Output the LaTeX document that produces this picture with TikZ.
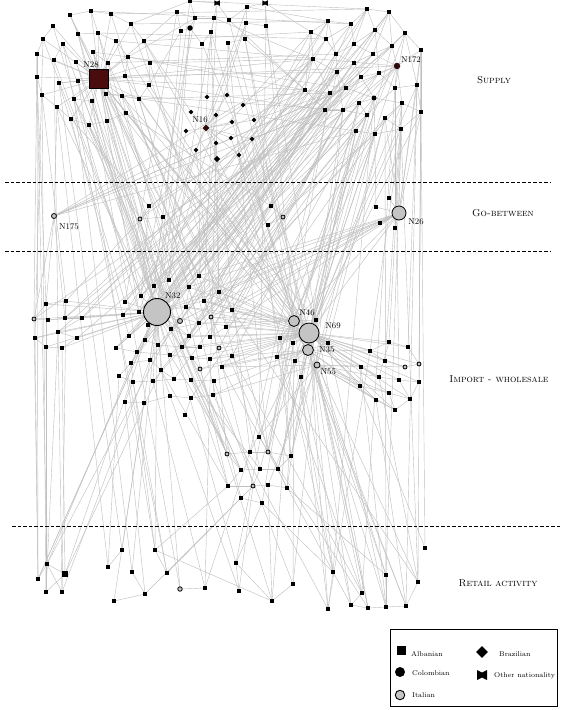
\documentclass[tikz,border=0pt]{standalone}
\usetikzlibrary{shapes.geometric, backgrounds, calc}
\definecolor{cdark}{RGB}{74,12,12}
\definecolor{cdeep}{RGB}{48,10,10}
\definecolor{clink}{RGB}{192,192,192}
\definecolor{citaly}{RGB}{196,196,196}

\begin{document}
\begin{tikzpicture}[
  x=1pt, y=-1pt,
  alb/.style     = {rectangle, fill=black, inner sep=0pt, minimum size=#1},
  alb/.default   = 3.2pt,
  col/.style     = {circle, fill=black, inner sep=0pt, minimum size=#1},
  col/.default   = 3.4pt,
  bra/.style     = {diamond, fill=black, inner sep=0pt, minimum size=#1},
  bra/.default   = 5pt,
  ita/.style     = {circle, draw=black, fill=citaly, line width=0.8pt,
                    inner sep=0pt, minimum size=#1},
  ita/.default   = 4pt,
  oth/.style     = {rectangle, inner sep=0pt, minimum size=#1,
                    path picture={\fill[black]
                      (path picture bounding box.north west)
                      -- ($(path picture bounding box.north)!0.5!(path picture bounding box.center)$)
                      -- (path picture bounding box.north east)
                      -- (path picture bounding box.south east)
                      -- ($(path picture bounding box.south)!0.5!(path picture bounding box.center)$)
                      -- (path picture bounding box.south west) -- cycle;}},
  oth/.default   = 5.5pt,
  link/.style    = {clink, line width=0.42pt},
  tier/.style    = {black, line width=0.9pt, dash pattern=on 3.5pt off 2pt},
  lbl/.style     = {font=\fontsize{8.5}{10}\selectfont, inner sep=1pt},
  tierlbl/.style = {font=\fontsize{10}{12}\selectfont\scshape},
  keytxt/.style  = {font=\fontsize{7}{8}\selectfont, anchor=west, inner sep=0pt},
]
\useasboundingbox (0,0) rectangle (563,710);

%% --- Supply: Albanian group ---
\foreach \n/\x/\y in {a1/70/15, a2/91/11, a3/111/14, a4/53/26, a5/78/34,
    a6/98/33, a7/131/24, a8/43/39, a9/63/44, a10/116/41, a11/144/41,
    a12/37/54, a13/54/60, a14/93/52, a16/108/63, a17/128/57, a20/59/83,
    a21/78/81, a22/125/76, a23/149/85, a24/42/95, a25/74/99, a26/92/101,
    a27/106/94, a28/122/96, a29/139/99, a30/57/107, a31/126/113,
    a32/71/119, a33/89/125}
  \node[alb] (\n) at (\x,\y) {};
\foreach \n/\x/\y in {a15/76/62, a18/150/63, a19/37/77, a34/107/121}
  \node[alb=4.4pt] (\n) at (\x,\y) {};
\node[alb=19pt, fill=cdark, draw=black, line width=0.6pt,
      label={[lbl, xshift=-8pt]above:N28}] (n28) at (99,79) {};

%% --- Supply: top middle ---
\foreach \n/\x/\y in {t1/190/1, t2/177/12, t3/195/18, t4/214/18, t5/229/20,
    t6/247/7, t7/246/23, t8/266/26, t9/181/31, t10/211/32, t11/202/44,
    t12/228/43, t13/245/39}
  \node[alb] (\n) at (\x,\y) {};
\node[oth] (o1) at (217,3) {};
\node[oth] (o2) at (265,3) {};
\node[col=5.5pt] (c1) at (190,28) {};

%% --- Supply: Brazilian group ---
\foreach \n/\x/\y in {b1/191/112, b2/207/97, b3/227/95, b4/243/105,
    b5/216/115, b6/232/122, b7/254/120, b8/186/131, b9/231/138,
    b10/252/139, b11/216/143, b12/196/150, b13/239/155}
  \node[bra] (\n) at (\x,\y) {};
\node[bra=6.5pt] (b14) at (217,159) {};
\node[bra=7pt, fill=cdeep, label={[lbl, xshift=-6pt]above:N16}] (n16) at (206,128) {};

%% --- Supply: top right ---
\foreach \n/\x/\y in {r1/367/9, r2/389/12, r3/328/21, r4/351/24, r5/375/30,
    r6/405/33, r7/311/32, r8/326/39, r9/354/44, r10/392/46, r11/421/50,
    r12/336/54, r13/373/54, r14/313/59, r15/354/63, r16/337/72, r17/379/73,
    r18/361/77, r19/346/88, r20/395/88, r21/417/85, r22/305/90, r23/330/93,
    r25/359/103, r26/402/103, r28/325/110, r29/343/110, r30/367/115,
    r31/385/118, r32/356/131, r33/375/134, r34/401/129}
  \node[alb] (\n) at (\x,\y) {};
\node[col=5pt] (r24) at (374,98) {};
\node[alb=4.4pt] (r27) at (421,112) {};
\node[col=6.5pt, fill=cdeep, label={[lbl]30:N172}] (n172) at (397,66) {};

%% --- Go-between ---
\node[ita=5pt, label={[lbl, label distance=5pt]-60:N175}] (n175) at (54,216) {};
\foreach \n/\x/\y in {g1/149/206, g3/163/217, g4/271/206, g6/268/225,
    g7/376/207, g8/389/198, g9/380/223, g10/395/228}
  \node[alb] (\n) at (\x,\y) {};
\node[ita] (g2) at (140,219) {};
\node[ita] (g5) at (283,217) {};
\node[ita=14pt, label={[lbl, label distance=2pt]-30:N26}] (n26) at (399,213) {};

%% --- Import - wholesale ---
\node[ita=27pt, line width=0.9pt, label={[lbl]60:N32}] (n32) at (157,312) {};
\foreach \n/\x/\y in {w1/199/276, w2/169/280, w3/154/286, w4/189/287,
    w5/219/292, w6/141/296, w7/125/302, w8/46/304, w9/66/301, w10/204/301,
    w11/186/307, w12/232/310, w13/139/312, w14/123/315, w15/48/320,
    w16/65/318, w17/82/318, w18/199/323, w19/148/325, w20/171/329,
    w21/226/327, w22/58/332, w23/77/338, w24/35/338, w25/129/336,
    w26/189/336, w27/210/337, w28/145/340, w29/158/345, w30/46/347,
    w31/62/348, w32/116/348, w33/182/347, w34/200/347, w35/137/352,
    w36/170/355, w37/192/358, w38/210/359, w39/232/356, w40/277/357,
    w41/131/363, w42/150/360, w43/222/367, w44/161/370, w45/119/376,
    w46/133/382, w47/153/381, w48/174/379, w49/191/380, w50/214/381,
    w51/170/396, w52/191/398, w53/213/395, w54/125/402, w55/144/403,
    w56/185/415, w57/259/437}
  \node[alb] (\n) at (\x,\y) {};
\foreach \n/\x/\y in {i1/34/319, i3/211/317, i4/219/348, i5/200/369,
    i6/405/367, i7/419/364}
  \node[ita] (\n) at (\x,\y) {};
\node[ita=5pt] (i2) at (180,321) {};
\node[ita=11pt, label={[lbl]45:N46}] (n46) at (294,321) {};
\node[ita=20pt, label={[lbl, label distance=5pt]10:N69}] (n69) at (309,333) {};
\node[ita=11pt, label={[lbl, label distance=4pt]right:N35}] (n35) at (308,350) {};
\node[ita=6pt, label={[lbl]-45:N55}] (n55) at (317,365) {};
\foreach \n/\x/\y in {v1/316/320, v2/293/343, v3/328/343, v4/295/361,
    v5/301/377, v6/280/338, v7/389/342, v8/408/347, v9/370/351,
    v10/385/361, v11/361/367, v12/379/377, v13/399/380, v14/419/382,
    v15/360/386, v16/389/393, v17/410/399, v18/376/400, v19/395/410}
  \node[alb] (\n) at (\x,\y) {};

%% --- Import - wholesale: lower group ---
\foreach \n/\x/\y in {m1/250/452, m2/291/456, m3/241/470, m4/260/469,
    m5/278/469, m6/228/486, m7/268/485, m8/287/488, m9/241/498, m10/262/503}
  \node[alb] (\n) at (\x,\y) {};
\foreach \n/\x/\y in {i8/227/454, i9/268/452, i10/253/486}
  \node[ita] (\n) at (\x,\y) {};

%% --- Retail activity ---
\foreach \n/\x/\y in {e1/425/548, e2/122/550, e3/155/550, e5/236/563,
    e6/108/567, e8/38/579, e9/132/572, e10/167/573, e11/333/572,
    e12/386/575, e13/418/582, e14/293/584, e15/46/592, e16/62/592,
    e17/205/588, e18/239/591, e19/145/594, e20/362/593, e21/114/601,
    e22/272/601, e23/351/605, e24/368/608, e25/386/607, e26/406/606,
    e27/328/609}
  \node[alb] (\n) at (\x,\y) {};
\node[alb=4pt] (e4) at (47,564) {};
\node[alb=5.5pt] (e7) at (65,574) {};
\node[ita=4.5pt] (i11) at (180,589) {};

%% --- Tiers ---
\draw[tier] (5,182) -- (550,182);
\draw[tier] (5,251) -- (551,251);
\draw[tier] (12,526) -- (561,526);
\node[tierlbl] (supply) at (494,80)  {Supply};
\node[tierlbl] (gobtw)  at (503,213) {Go-between};
\node[tierlbl] (impw)   at (499,379) {Import - wholesale};
\node[tierlbl] (retail) at (498,583) {Retail activity};

%% --- Links ---
\begin{pgfonlayer}{background}
  \fill[white] (0,0) rectangle (563,710);
  % stars
  \foreach \i in {1,...,34} \draw[link] (n28) -- (a\i);
  \foreach \i in {1,...,14} \draw[link] (n16) -- (b\i);
  \foreach \n in {w1,w2,w3,w4,w5,w6,w7,w10,w11,w13,w14,w18,w19,w20,w25,w26,
      w28,w29,w32,w33,w35,w36,w41,w42,w44,w47,w48,i2,
      w8,w9,w15,w16,w17,i1,w22,w23,w30,w31,w24}
    \draw[link] (n32) -- (\n);
  \foreach \n in {v1,v2,v3,v4,v5,v6,v7,v8,v9,v10,v11,v12,v13,v14,v15,v16,
      v17,v18,v19,i6,i7,w5,w10,w12,w18,w21,w27,w34,w38,w39,w40,w43,i3,i4,
      i5,w26,w33,w37,w11,w4}
    \draw[link] (n69) -- (\n);
  \foreach \n in {w1,w5,w10,w12,i3,w21,v6,w18,w40,w11,v1,v3}
    \draw[link] (n46) -- (\n);
  \foreach \n in {w39,w43,i5,w50,w53,w40,v4,v5,v9,v11,v15,v18,v3}
    \draw[link] (n35) -- (\n);
  \foreach \n in {w40,w43,v12,v15,v16,v18,v19,i6,w53,w57,v11}
    \draw[link] (n55) -- (\n);
  % supply, local
  \foreach \a/\b in {a1/a2, a2/a3, a4/a8, a8/a12, a12/a19, a19/a24, a24/a30,
      a30/a32, a32/a33, a33/a34, a34/a31, a31/a28, a28/a29, a29/a23,
      a23/a18, a18/a11, a11/a7, a7/a3, a5/a6, a9/a13, a14/a16, a17/a22,
      a20/a21, a25/a26, a27/a28, a1/a5, a6/a10, a10/a17,
      t1/t3, t2/t3, t3/t4, t4/o1, o1/t1, t5/t6, t6/o2, t7/t8, t8/o2,
      t9/c1, c1/t3, t10/t11, t12/t13, t4/t10, t7/t13, t2/t9, o1/t5, t6/t7,
      c1/t11,
      r1/r2, r1/r4, r1/r5, r2/r5, r2/r6, r3/r4, r3/r7, r3/r8, r4/r9,
      r5/r9, r5/r10, r6/r10, r6/r11, r7/r8, r7/r14, r8/r12, r9/r12,
      r9/r13, r10/r13, r10/n172, r11/n172, r11/r21, r12/r15, r13/r15,
      r13/n172, r14/r16, r14/r22, r15/r16, r15/r18, r16/r19, r17/n172,
      r17/r18, r17/r20, r18/r19, r19/r23, r19/r24, r20/r21, r20/n172,
      r21/r27, r22/r23, r23/r28, r24/r25, r24/r26, r25/r30, r26/r27,
      r26/r31, r28/r29, r29/r30, r30/r32, r31/r33, r32/r33, r33/r34,
      r34/r27, r2/r13, r1/r9, r4/r8, r12/r16, r5/r17, r6/r20, r22/r28,
      r29/r25, r24/r30, r31/r34, r18/r24, n172/r24, n172/r26, r3/r12,
      r7/r22, r11/r27, r2/r10, r6/r21, r14/r23, r16/r29}
    \draw[link] (\a) -- (\b);
  % supply, long
  \foreach \a/\b in {a11/r7, a18/r14, a7/r3, a10/n172, a17/r22, a23/r28,
      a3/r1, a22/r16, a29/r23, a16/r12, a6/r8, a2/r4, n28/r22, n28/r14,
      n28/n172, a14/r19, a27/r29, a28/r32,
      a5/n32, a15/n32, a21/n32, a26/n32, a33/n32, a34/n32, a30/n32,
      a25/w2, a20/w7, a13/w6, a9/w3, n28/n32, n28/w1, n28/n69, n28/n46,
      a29/n69, a31/n69, a22/n35, a28/w12, a16/w5, a27/w10, a32/w14,
      a24/w9, a19/w8, a12/i1, a8/w24,
      a30/n175, a32/g1, a33/g2, a31/g4,
      a19/e4, a24/e15, a12/e8, a13/e16, a20/e2, a30/e6, a25/e9, a21/e3,
      a26/i11, a15/i8, a33/m3, a34/m6, a14/e5, a9/e10,
      a1/w1, a4/w13, a5/w19, a6/w20, a8/w6, a10/w18, a11/n69, a14/w4,
      a17/n46, a18/w21, a23/n69, a27/n35, a28/v1, a29/w27, a31/w26,
      a3/w10, a2/w11, a7/w12, n28/w3, n28/w2, n28/i2, n28/w13,
      b8/n32, b12/n32, b11/w1, b14/n69, b13/n69, b10/v1, b9/n46, b4/r22,
      b7/r14, b3/t12, b2/t10, b1/a11, b5/w5, b6/n35, b12/i8, b14/m1,
      b13/e11, b11/e17, b10/r28, b7/r23,
      t9/n32, t11/w1, t12/n69, t13/n46, c1/n32, t2/w7, t5/n69, t10/w5,
      t1/a7, t2/a11, o2/r7, t6/r3, t8/w57, t13/r22, t12/i9, t11/g4,
      t7/n16, t3/a17, o1/w10, c1/w2, t4/r14, t5/r22, t9/a23, t1/r1,
      t1/w3, t3/w6, t4/w2, t6/w13, t7/n32, t8/v1, t10/n46, o2/n46, t13/n35}
    \draw[link] (\a) -- (\b);
  \foreach \a/\b in {r3/n32, r7/n32, r14/n32, r22/n32, r28/n32, r16/w1,
      r19/w5, r23/w10, r29/w12, r32/n69, r33/n69, r30/n46, r25/n35,
      r31/n55, r24/n69, n172/n69, n172/n32, r26/v1, r34/v7, r27/i7,
      r21/v8, r11/v14, r20/v13, r13/w4, r9/w11, r12/w18, r15/w20,
      r18/w21, r17/i3, r5/i2, r1/w26, r4/w27, r2/w33, r6/n46, r10/n35,
      r8/w28, r22/w13, r28/w19, r23/w25, r29/i4, r32/w39, r33/w40,
      r30/v6, r25/v2, r31/v3, r34/v9, r26/v10, r19/w6, r16/w3, r12/w2,
      r8/w7, r3/w14, r14/w17, r7/w9, r22/w16,
      r1/n32, r2/w2, r4/w6, r5/w7, r9/w13, r10/w3, r13/w14, r15/w19,
      r17/w25, r18/w28, r19/w32, r20/n32, r21/n69, r23/w35, r24/w29,
      r25/w33, r26/w36, r27/n69, r28/w41, r29/w42, r30/w44, r31/w47,
      r32/w48, r33/w52, r34/n35, r6/w17, r10/w16, r13/w22, n172/w23,
      r17/i1,
      r22/n175, r28/n175, r32/n175, n172/n175, r19/n175, r14/n175,
      r23/g1, r29/g3, r16/g2, r30/g5, r33/g6, r25/g4, r31/n26, r34/n26,
      r24/g7, r26/g8, r27/n26, r20/g10, r21/n26, r11/n26,
      r27/e1, r34/e13, r21/e26, r26/e12, r31/e25, r33/m2, r32/m5,
      r30/i9, r25/m4, r29/e14, r24/e11, r20/e20, r11/e13}
    \draw[link] (\a) -- (\b);
  % go-between
  \foreach \a/\b in {g1/g2, g2/g3, g4/g5, g5/g6, g7/n26, g8/n26, g9/n26,
      g10/n26, n26/n32, n26/w12, n26/w10, n26/n69, n26/n46, n26/w21,
      n26/i3, n26/w5, n26/i2, n26/w1, n26/w4, n175/i1, n175/w8, n175/w16,
      g2/n32, g3/w3, g5/w12, g6/n46, g1/w6, g4/w10}
    \draw[link] (\a) -- (\b);
  % import, local
  \foreach \a/\b in {i1/w8, i1/w15, w15/w16, w16/w17, w22/w24, w22/w23,
      w30/w31, w22/w17, w8/w9, w24/w30, w23/w31, w9/w16,
      v7/v9, v9/v10, v10/i6, i6/i7, v11/v12, v12/v13, v13/v14, v15/v16,
      v16/v17, v18/v19, v14/v17, v7/v12, v8/i7, v7/v8, v16/v19, v17/v19,
      v11/v15, v13/v17,
      w1/w4, w2/w3, w4/w11, w10/w12, w11/w18, w18/w20, w20/w26, w26/w27,
      w27/w21, w19/w28, w28/w29, w29/w33, w33/w34, w32/w35, w35/w36,
      w36/w37, w37/w38, w38/w39, w41/w42, w42/w44, w44/w48, w45/w46,
      w46/w47, w47/w48, w48/w49, w49/w50, w51/w52, w52/w53, w54/w55,
      w55/w51, w25/w32, w14/w25, i2/w20, i4/w38, i5/w37, w43/w39,
      w56/w52, w50/w53, w45/w41, w54/w46}
    \draw[link] (\a) -- (\b);
  % import to retail
  \foreach \a/\b in {n69/e11, n69/e20, n69/e23, n69/e24, n69/e27,
      n35/e12, n35/e25, n35/e26, n55/e13, n55/e24, n46/e14, n46/e27,
      v4/e11, v5/e23, v2/e22, v6/e5, v11/e25, v15/e1, v18/e26, v12/e13,
      w40/e20, w57/e24, n32/e2, n32/e3, n32/e9, n32/i11, w45/e6, w54/e19,
      w55/e21, w46/e10, w47/e17, w41/e3, w44/e18, w8/e15, w24/e8, w30/e4,
      w9/e16, w31/e7, w22/e15, i1/e8, n32/e8, w35/e4, w28/e7, w42/e16,
      i5/e22, w53/e27, w50/e14, w43/e23, w39/e20, v1/e24, v3/e25,
      n46/e26, n69/e12, w12/e13, v9/e27}
    \draw[link] (\a) -- (\b);
  % lower group
  \foreach \a/\b in {i8/m1, m1/i9, i9/m2, m3/m4, m4/m5, m6/i10, i10/m7,
      m7/m8, m9/m10, i8/m3, m3/m6, m4/i10, m5/m8, i10/m9, m2/m5,
      i8/n32, i8/w3, m1/n69, i9/n46, m2/r32, m5/n35, m8/e12, m10/e5,
      i10/e18, m6/e3, m9/e10, m7/e22, m1/e17, i8/w20, m3/w36, m4/w49,
      m5/v1, m2/v6, i9/w12, m6/w44, m8/v4, m7/n55, m10/e11, m9/e19,
      m3/a25, m1/r16, i9/r23, m4/w5, m6/w11, m2/b10, m8/r29, i10/w1,
      m9/w4, m10/n46, m5/w10}
    \draw[link] (\a) -- (\b);
  % retail, local
  \foreach \a/\b in {e4/e8, e4/e15, e4/e16, e7/e15, e7/e4, i11/e17,
      e5/e18, e23/e24, e24/e25, e25/e26, e20/e23, e3/e10, e2/e6, e9/e19,
      e14/e22, e11/e27, e12/e25, e13/e26, e5/e22, e19/e21, e3/e22,
      e8/n32, e7/w44, e4/w20}
    \draw[link] (\a) -- (\b);
\end{pgfonlayer}

%% --- Key ---
\draw[line width=0.8pt] (390,629) rectangle (557,706);
\node[alb=9pt]  (kalb) at (401,650) {};
\node[col=10pt] (kcol) at (400,672) {};
\node[ita=9.5pt, line width=0.9pt] (kita) at (400,695) {};
\node[bra=12pt] (kbra) at (482,652) {};
\node[oth=10pt] (koth) at (482,675) {};
\node[keytxt] (talb) at (411,654) {Albanian};
\node[keytxt] (tcol) at (412,673) {Colombian};
\node[keytxt] (tita) at (412,695) {Italian};
\node[keytxt] (tbra) at (499,654) {Brazilian};
\node[keytxt] (toth) at (494,676) {Other nationality};
\end{tikzpicture}
\end{document}
